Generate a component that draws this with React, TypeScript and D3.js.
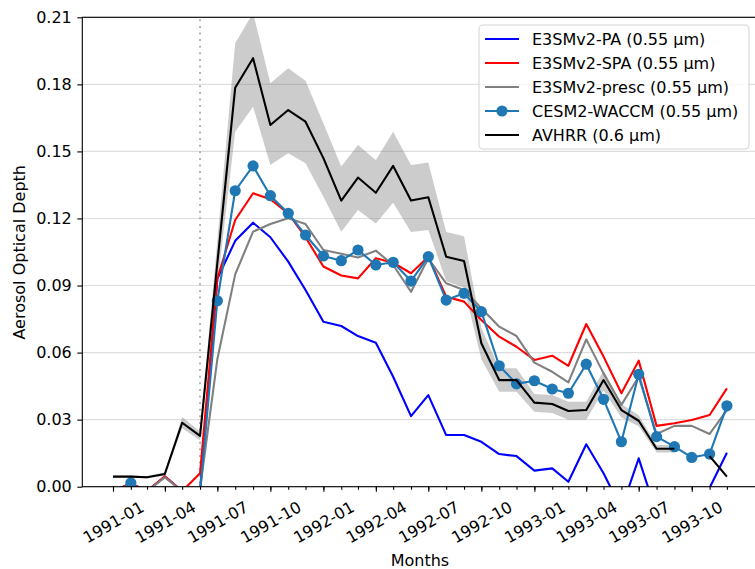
import React, { useEffect, useRef } from 'react';
import * as d3 from 'd3';

// monthly AOD, 1991-01 .. 1993-12
const months = [
  '1991-01', '1991-02', '1991-03', '1991-04', '1991-05', '1991-06',
  '1991-07', '1991-08', '1991-09', '1991-10', '1991-11', '1991-12',
  '1992-01', '1992-02', '1992-03', '1992-04', '1992-05', '1992-06',
  '1992-07', '1992-08', '1992-09', '1992-10', '1992-11', '1992-12',
  '1993-01', '1993-02', '1993-03', '1993-04', '1993-05', '1993-06',
  '1993-07', '1993-08', '1993-09', '1993-10', '1993-11', '1993-12',
];

const e3smPA = [
  -0.002, 0.0015, -0.002, 0.0045, -0.002, -0.002,
  0.093, 0.110, 0.1181, 0.1116, 0.1007, 0.088,
  0.0738, 0.0719, 0.0674, 0.0644, 0.0492, 0.0316,
  0.041, 0.0231, 0.0231, 0.0201, 0.0146, 0.0137,
  0.0072, 0.0082, 0.0022, 0.019, 0.006, -0.010,
  0.0127, -0.012, -0.010, -0.010, -0.0005, 0.0152,
];

const e3smSPA = [
  -0.002, 0.0015, -0.002, 0.0047, -0.002, 0.006,
  0.093, 0.1193, 0.1313, 0.1286, 0.1223, 0.1116,
  0.0985, 0.0945, 0.0932, 0.1022, 0.1002, 0.0955,
  0.1029, 0.085, 0.0828, 0.0746, 0.0671, 0.0626,
  0.0567, 0.0586, 0.0541, 0.0728, 0.0582, 0.0418,
  0.0564, 0.0272, 0.0284, 0.0298, 0.0321, 0.044,
];

const e3smPresc = [
  -0.002, 0.001, -0.002, 0.0042, -0.002, -0.001,
  0.057, 0.095, 0.1141, 0.1175, 0.1201, 0.1175,
  0.1059, 0.1042, 0.1025, 0.1056, 0.0992, 0.0872,
  0.1022, 0.091, 0.088, 0.0798, 0.0716, 0.0674,
  0.0555, 0.0514, 0.0467, 0.0659, 0.0507, 0.0366,
  0.0492, 0.0236, 0.0272, 0.0272, 0.0236, 0.0343,
];

const cesmWaccm = [
  -0.004, 0.0017, -0.004, -0.004, -0.004, -0.003,
  0.0832, 0.1324, 0.1435, 0.1302, 0.1223, 0.1126,
  0.1032, 0.1011, 0.1059, 0.0992, 0.1004, 0.092,
  0.1029, 0.0835, 0.0865, 0.0783, 0.0541, 0.046,
  0.0474, 0.0437, 0.0418, 0.0548, 0.0391, 0.0201,
  0.0503, 0.0224, 0.0179, 0.0131, 0.0146, 0.0362,
];

const avhrr = [
  0.0045, 0.0045, 0.0042, 0.0057, 0.0286, 0.0227,
  0.100, 0.1785, 0.1917, 0.1618, 0.1685, 0.1633,
  0.147, 0.128, 0.1383, 0.1315, 0.1435, 0.128,
  0.1295, 0.1029, 0.101, 0.0642, 0.0477, 0.0477,
  0.0376, 0.037, 0.0339, 0.0343, 0.0477, 0.0343,
  0.0295, 0.017, 0.017, null, 0.0137, 0.0045,
];

const avhrrLow = [
  0.0040, 0.0040, 0.0037, 0.0050, 0.0262, 0.0208,
  0.090, 0.1588, 0.170, 0.1439, 0.1492, 0.1447,
  0.1297, 0.1141, 0.1238, 0.1178, 0.127, 0.114,
  0.1148, 0.092, 0.089, 0.057, 0.0425, 0.0425,
  0.0335, 0.033, 0.030, 0.030, 0.043, 0.031,
  0.027, 0.0153, 0.0153, null, 0.0132, 0.0040,
];

const avhrrHigh = [
  0.0050, 0.0050, 0.0047, 0.0065, 0.0312, 0.0247,
  0.110, 0.1984, 0.212, 0.1805, 0.1872, 0.1816,
  0.1626, 0.1432, 0.1529, 0.1462, 0.1588, 0.1439,
  0.145, 0.114, 0.112, 0.071, 0.053, 0.053,
  0.0415, 0.041, 0.038, 0.038, 0.052, 0.037,
  0.032, 0.0187, 0.0187, null, 0.0142, 0.0050,
];

const yTicks = [0, 0.03, 0.06, 0.09, 0.12, 0.15, 0.18, 0.21];
const xTickLabels = [
  '1991-01', '1991-04', '1991-07', '1991-10', '1992-01', '1992-04',
  '1992-07', '1992-10', '1993-01', '1993-04', '1993-07', '1993-10',
];
const eruptionMonth = '1991-06';

const seriesNames = [
  'E3SMv2-PA (0.55 µm)',
  'E3SMv2-SPA (0.55 µm)',
  'E3SMv2-presc (0.55 µm)',
  'CESM2-WACCM (0.55 µm)',
  'AVHRR (0.6 µm)',
];
const seriesColors = ['#0000ff', '#ff0000', '#808080', '#1f77b4', '#000000'];

const parseMonth = d3.utcParse('%Y-%m');

export default function App() {
  const ref = useRef<SVGSVGElement>(null);

  useEffect(() => {
    const svg = d3.select(ref.current);
    svg.selectAll('*').remove();

    const left = 82.3, top = 17.3, bottom = 486.7, right = 757.6;
    const font = 'DejaVu Sans, sans-serif';

    const dates = months.map(m => parseMonth(m) as Date);
    const first = dates[0].getTime(), last = dates[dates.length - 1].getTime();
    const pad = (last - first) * 0.05;

    const x = d3.scaleUtc()
      .domain([new Date(first - pad), new Date(last + pad)])
      .range([left, right]);
    const y = d3.scaleLinear().domain([0, 0.21]).range([bottom, top]);

    svg.append('defs').append('clipPath').attr('id', 'plot-clip')
      .append('rect')
      .attr('x', left).attr('y', top)
      .attr('width', right - left).attr('height', bottom - top);

    // grid
    svg.append('g').selectAll('line')
      .data(yTicks)
      .enter().append('line')
      .attr('x1', left).attr('x2', right)
      .attr('y1', d => y(d)).attr('y2', d => y(d))
      .attr('stroke', '#dddddd').attr('stroke-width', 1.1);

    const plot = svg.append('g').attr('clip-path', 'url(#plot-clip)');

    // AVHRR spread
    const band = d3.area<number>()
      .defined(i => avhrrLow[i] != null && avhrrHigh[i] != null)
      .x(i => x(dates[i]))
      .y0(i => y(avhrrLow[i] as number))
      .y1(i => y(avhrrHigh[i] as number));
    plot.append('path')
      .attr('d', band(d3.range(months.length)))
      .attr('fill', '#808080').attr('fill-opacity', 0.4);

    // eruption marker
    const ex = x(parseMonth(eruptionMonth) as Date);
    plot.append('line')
      .attr('x1', ex).attr('x2', ex).attr('y1', top + 2).attr('y2', bottom)
      .attr('stroke', '#b3b3b3').attr('stroke-width', 2)
      .attr('stroke-dasharray', '2,4.6');

    const allSeries = [e3smPA, e3smSPA, e3smPresc, cesmWaccm, avhrr];
    allSeries.forEach((vals, k) => {
      const line = d3.line<number>()
        .defined(i => vals[i] != null)
        .x(i => x(dates[i]))
        .y(i => y(vals[i] as number));
      plot.append('path')
        .attr('d', line(d3.range(months.length)))
        .attr('fill', 'none')
        .attr('stroke', seriesColors[k])
        .attr('stroke-width', 2.1)
        .attr('stroke-linejoin', 'round');
      if (k === 3) {
        plot.append('g').selectAll('circle')
          .data(d3.range(months.length))
          .enter().append('circle')
          .attr('cx', i => x(dates[i]))
          .attr('cy', i => y(vals[i] as number))
          .attr('r', 5.6)
          .attr('fill', seriesColors[k]);
      }
    });

    // axes
    const yAxis = svg.append('g')
      .attr('transform', `translate(${left},0)`)
      .call(d3.axisLeft(y).tickValues(yTicks).tickFormat(d3.format('.2f'))
        .tickSize(5).tickPadding(5.5).tickSizeOuter(0));
    yAxis.selectAll('text').attr('font-size', 16).attr('font-family', font).attr('fill', '#000');

    svg.append('g')
      .attr('transform', `translate(0,${bottom})`)
      .call(d3.axisBottom(x).tickValues(dates).tickFormat(() => '').tickSize(3).tickSizeOuter(0));

    const xAxis = svg.append('g')
      .attr('transform', `translate(0,${bottom})`)
      .call(d3.axisBottom(x).tickValues(xTickLabels.map(s => parseMonth(s) as Date))
        .tickFormat(d3.utcFormat('%Y-%m') as any).tickSize(5).tickSizeOuter(0));
    xAxis.selectAll('text')
      .attr('y', 0).attr('dy', '0.35em')
      .attr('transform', 'translate(0,35.6) rotate(-30)')
      .attr('text-anchor', 'middle')
      .attr('font-size', 16).attr('font-family', font).attr('fill', '#000');

    svg.selectAll('.domain').remove();
    svg.selectAll('.tick line').attr('stroke', '#000').attr('stroke-width', 1.1);

    // frame
    svg.append('rect')
      .attr('x', left).attr('y', top)
      .attr('width', right - left).attr('height', bottom - top)
      .attr('fill', 'none').attr('stroke', '#000').attr('stroke-width', 1.1);

    svg.append('text')
      .attr('x', (left + right) / 2).attr('y', 565.5)
      .attr('text-anchor', 'middle')
      .attr('font-size', 16).attr('font-family', font)
      .text('Months');

    svg.append('text')
      .attr('transform', `translate(25,${(top + bottom) / 2 + 0.3}) rotate(-90)`)
      .attr('text-anchor', 'middle')
      .attr('font-size', 16).attr('font-family', font)
      .text('Aerosol Optical Depth');

    // legend
    const legend = svg.append('g');
    legend.append('rect')
      .attr('x', 479).attr('y', 25).attr('width', 270).attr('height', 124).attr('rx', 4)
      .attr('fill', '#fff').attr('fill-opacity', 0.8)
      .attr('stroke', '#d6d6d6').attr('stroke-width', 1.1);
    seriesNames.forEach((name, k) => {
      const ry = 39 + k * 24;
      legend.append('line')
        .attr('x1', 485).attr('x2', 519).attr('y1', ry).attr('y2', ry)
        .attr('stroke', seriesColors[k]).attr('stroke-width', 2.1);
      if (k === 3) {
        legend.append('circle').attr('cx', 502).attr('cy', ry).attr('r', 5.6)
          .attr('fill', seriesColors[k]);
      }
      legend.append('text')
        .attr('x', 532).attr('y', ry).attr('dy', '0.35em')
        .attr('font-size', 16).attr('font-family', font)
        .text(name);
    });
  }, []);

  return (
    <svg ref={ref} width={755} height={569}
      style={{ position: 'absolute', left: 0, top: 0, background: '#fff' }} />
  );
}
